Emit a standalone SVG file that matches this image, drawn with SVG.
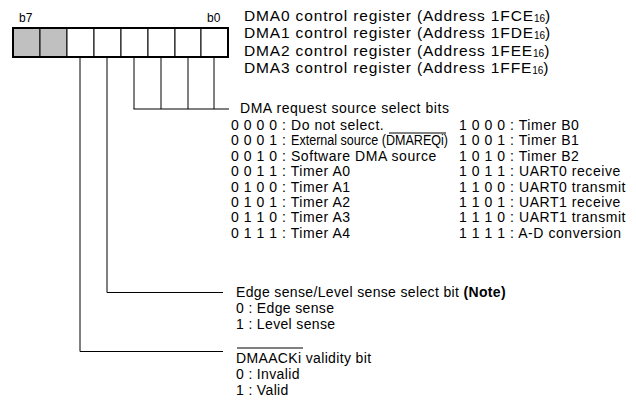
<svg xmlns="http://www.w3.org/2000/svg" width="636" height="406" viewBox="0 0 636 406">
<style>
text{font-family:"Liberation Sans",Arial,sans-serif;font-size:14px;fill:#000;letter-spacing:0.55px}
.ttl{font-size:15.5px;letter-spacing:0.85px}
.sm{font-size:12px;letter-spacing:0}
.sub{font-size:10px;letter-spacing:0}
.cond{letter-spacing:0}
.lo{letter-spacing:0.35px}
.cell{fill:#fff;stroke:#000;stroke-width:1}
.gray{fill:#c0c0c0}
.ln{stroke:#000;stroke-width:1;fill:none}
</style>
<rect width="636" height="406" fill="#fff"/>
<g id="register">
<rect class="cell gray" x="13" y="28" width="27" height="29"/>
<rect class="cell gray" x="40" y="28" width="27" height="29"/>
<rect class="cell" x="67" y="28" width="27" height="29"/>
<rect class="cell" x="94" y="28" width="27" height="29"/>
<rect class="cell" x="121" y="28" width="27" height="29"/>
<rect class="cell" x="148" y="28" width="27" height="29"/>
<rect class="cell" x="175" y="28" width="26" height="29"/>
<rect class="cell" x="201" y="28" width="27" height="29"/>
<rect x="13" y="28" width="215" height="29" fill="none" stroke="#000" stroke-width="2"/>
<text class="sm" x="19" y="22">b7</text>
<text class="sm" x="207" y="22">b0</text>
</g>
<g id="title">
<text class="ttl" x="244" y="20.5">DMA0 control register (Address 1FCE<tspan class="sub" dy="1">16</tspan><tspan dy="-1">)</tspan></text>
<text class="ttl" x="244" y="38">DMA1 control register (Address 1FDE<tspan class="sub" dy="1">16</tspan><tspan dy="-1">)</tspan></text>
<text class="ttl" x="244" y="55.5">DMA2 control register (Address 1FEE<tspan class="sub" dy="1">16</tspan><tspan dy="-1">)</tspan></text>
<text class="ttl" x="244" y="73">DMA3 control register (Address 1FFE<tspan class="sub" dy="1">16</tspan><tspan dy="-1">)</tspan></text>
</g>
<g id="connectors">
<path class="ln" d="M134 57V109M161 57V109M188 57V109M214 57V109M133.5 109H229"/>
<path class="ln" d="M107 57V292.5H223"/>
<path class="ln" d="M80 57V351.5H223"/>
</g>
<g id="request-bits">
<text x="240" y="113">DMA request source select bits</text>
<text x="231" y="130">0 0 0 0 : Do not select.</text>
<text x="231" y="145.4">0 0 0 1 : </text>
<text class="cond" x="291" y="145.4" textLength="157" lengthAdjust="spacingAndGlyphs">External source (DMAREQi)</text>
<line class="ln" x1="389" y1="133" x2="446" y2="133"/>
<text x="231" y="160.8">0 0 1 0 : Software DMA source</text>
<text x="231" y="176.2">0 0 1 1 : Timer A0</text>
<text x="231" y="191.6">0 1 0 0 : Timer A1</text>
<text x="231" y="207">0 1 0 1 : Timer A2</text>
<text x="231" y="222.4">0 1 1 0 : Timer A3</text>
<text x="231" y="237.8">0 1 1 1 : Timer A4</text>
<text x="459" y="130">1 0 0 0 : Timer B0</text>
<text x="459" y="145.4">1 0 0 1 : Timer B1</text>
<text x="459" y="160.8">1 0 1 0 : Timer B2</text>
<text x="459" y="176.2">1 0 1 1 : UART0 receive</text>
<text x="459" y="191.6">1 1 0 0 : UART0 transmit</text>
<text x="459" y="207">1 1 0 1 : UART1 receive</text>
<text x="459" y="222.4">1 1 1 0 : UART1 transmit</text>
<text x="459" y="237.8">1 1 1 1 : A-D conversion</text>
</g>
<g id="edge-sense">
<text class="lo" x="236" y="297">Edge sense/Level sense select bit <tspan font-weight="bold">(Note)</tspan></text>
<text class="lo" x="236" y="313">0 : Edge sense</text>
<text class="lo" x="236" y="329">1 : Level sense</text>
</g>
<g id="dmaack">
<line class="ln" x1="237" y1="348" x2="303" y2="348"/>
<text class="lo" x="236" y="363">DMAACKi validity bit</text>
<text class="lo" x="236" y="379">0 : Invalid</text>
<text class="lo" x="236" y="395">1 : Valid</text>
</g>
</svg>
